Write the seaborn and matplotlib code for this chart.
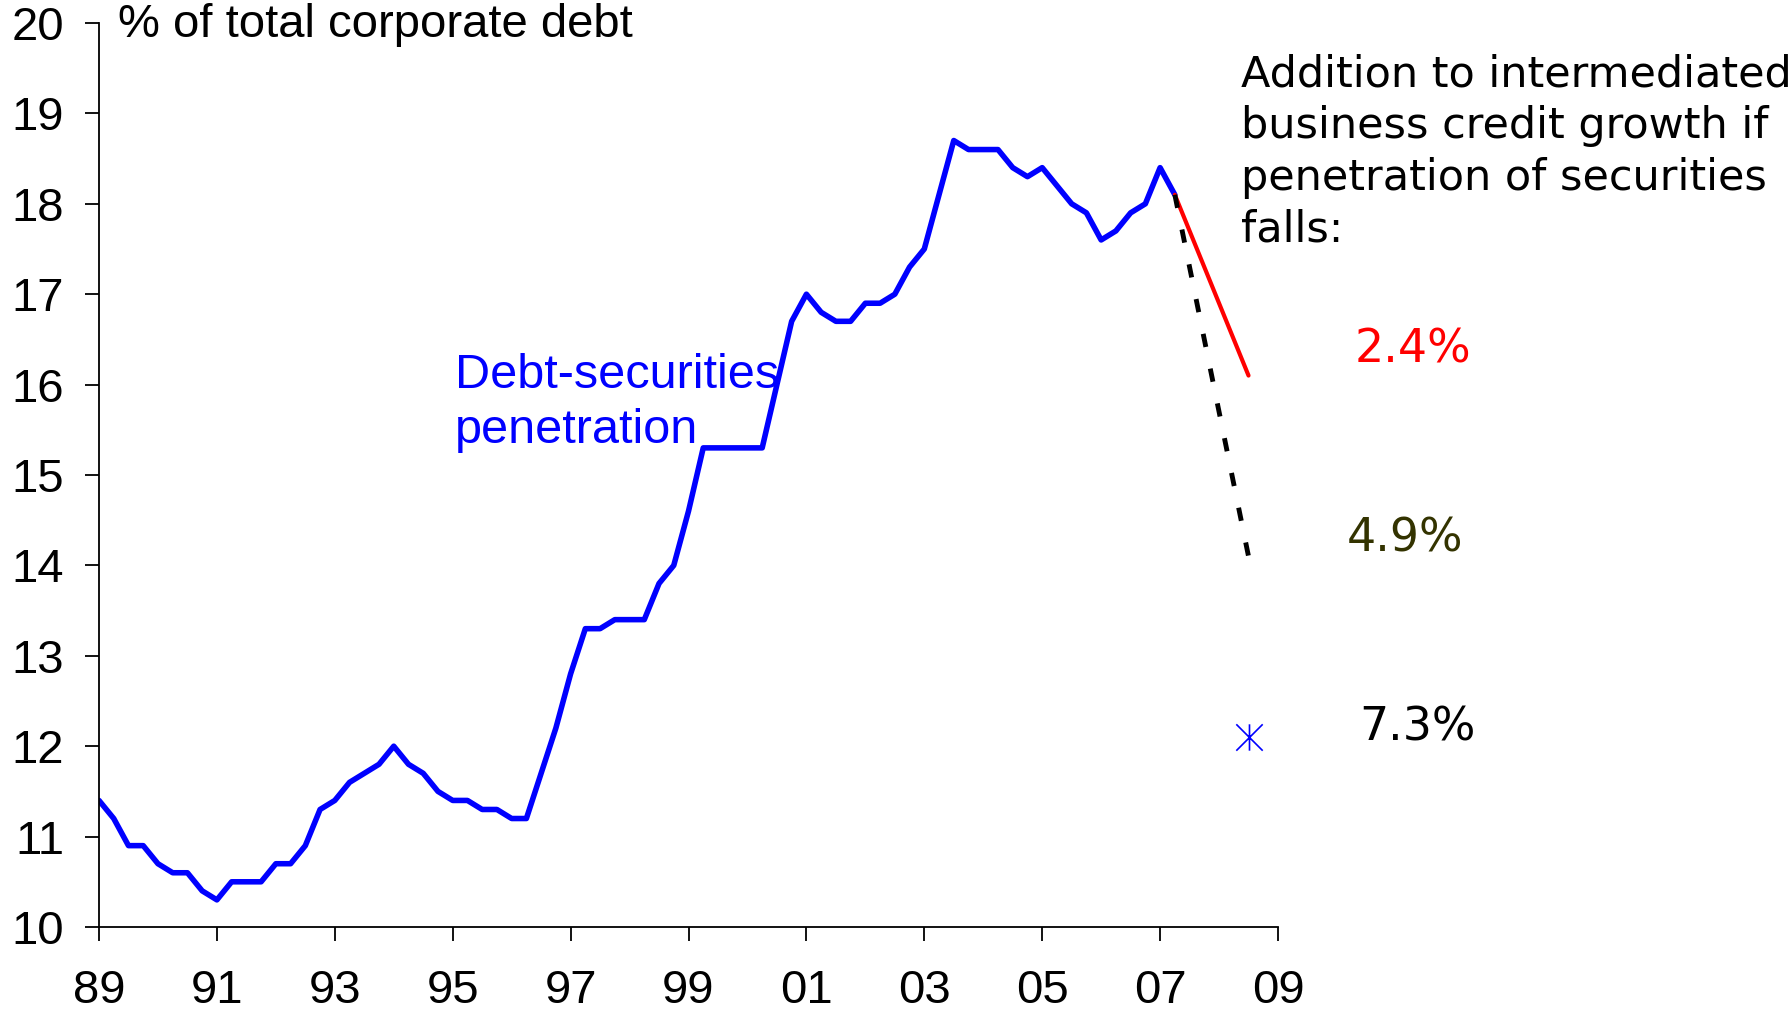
import matplotlib
matplotlib.use("Agg")
import matplotlib.pyplot as plt
from matplotlib.path import Path
import seaborn as sns
import pandas as pd

# ---- data (quarterly, % of total corporate debt) ----
quarters = [1989.00, 1989.25, 1989.50, 1989.75, 1990.00, 1990.25, 1990.50, 1990.75,
            1991.00, 1991.25, 1991.50, 1991.75, 1992.00, 1992.25, 1992.50, 1992.75,
            1993.00, 1993.25, 1993.50, 1993.75, 1994.00, 1994.25, 1994.50, 1994.75,
            1995.00, 1995.25, 1995.50, 1995.75, 1996.00, 1996.25, 1996.50, 1996.75,
            1997.00, 1997.25, 1997.50, 1997.75, 1998.00, 1998.25, 1998.50, 1998.75,
            1999.00, 1999.25, 1999.50, 1999.75, 2000.00, 2000.25, 2000.50, 2000.75,
            2001.00, 2001.25, 2001.50, 2001.75, 2002.00, 2002.25, 2002.50, 2002.75,
            2003.00, 2003.25, 2003.50, 2003.75, 2004.00, 2004.25, 2004.50, 2004.75,
            2005.00, 2005.25, 2005.50, 2005.75, 2006.00, 2006.25, 2006.50, 2006.75,
            2007.00, 2007.25]
penetration = [11.4, 11.2, 10.9, 10.9, 10.7, 10.6, 10.6, 10.4,
               10.3, 10.5, 10.5, 10.5, 10.7, 10.7, 10.9, 11.3,
               11.4, 11.6, 11.7, 11.8, 12.0, 11.8, 11.7, 11.5,
               11.4, 11.4, 11.3, 11.3, 11.2, 11.2, 11.7, 12.2,
               12.8, 13.3, 13.3, 13.4, 13.4, 13.4, 13.8, 14.0,
               14.6, 15.3, 15.3, 15.3, 15.3, 15.3, 16.0, 16.7,
               17.0, 16.8, 16.7, 16.7, 16.9, 16.9, 17.0, 17.3,
               17.5, 18.1, 18.7, 18.6, 18.6, 18.6, 18.4, 18.3,
               18.4, 18.2, 18.0, 17.9, 17.6, 17.7, 17.9, 18.0,
               18.4, 18.1]

proj_x = [2007.25, 2008.5]
proj_24 = [18.1, 16.1]   # 2.4% scenario
proj_49 = [18.1, 14.1]   # 4.9% scenario
star_x = [2008.5]
star_73 = [12.1]         # 7.3% scenario

scenario_labels = ["2.4%", "4.9%", "7.3%"]
xtick_years = [1989, 1991, 1993, 1995, 1997, 1999, 2001, 2003, 2005, 2007, 2009]
xtick_labels = ["89", "91", "93", "95", "97", "99", "01", "03", "05", "07", "09"]
yticks = [10, 11, 12, 13, 14, 15, 16, 17, 18, 19, 20]

BLUE = "#0000FF"
RED = "#FF0000"
OLIVE = "#333300"

sns.set_theme(style="ticks")
plt.rcParams['font.family'] = ['Liberation Sans', 'DejaVu Sans']

W, H = 1791, 1011
fig = plt.figure(figsize=(W / 100, H / 100), dpi=100)
ax = fig.add_axes([99 / W, 1 - 927 / H, (1278 - 99) / W, (927 - 23) / H])

# star marker: an X plus a vertical bar
star_path = Path([(0, -1), (0, 1), (-1, -1), (1, 1), (-1, 1), (1, -1)],
                 [Path.MOVETO, Path.LINETO] * 3)

df = pd.DataFrame({"year": quarters, "pen": penetration})
sns.lineplot(data=df, x="year", y="pen", ax=ax, color=BLUE, linewidth=4.0)
sns.lineplot(x=proj_x, y=proj_24, ax=ax, color=RED, linewidth=3.0)
sns.lineplot(x=proj_x, y=proj_49, ax=ax, color="black", linewidth=3.5,
             linestyle=(0, (2.75, 4.55)))
sns.scatterplot(x=star_x, y=star_73, ax=ax, color=BLUE, marker=star_path,
                s=19 ** 2, linewidth=1.2, edgecolor=BLUE, zorder=5)

ax.set_xlim(1989, 2009)
ax.set_ylim(10, 20)
ax.set_xticks(xtick_years)
ax.set_xticklabels(xtick_labels)
ax.set_yticks(yticks)
ax.set_xlabel("")
ax.set_ylabel("")
for s in ["top", "right"]:
    ax.spines[s].set_visible(False)
for s in ["left", "bottom"]:
    ax.spines[s].set_linewidth(1.3)
    ax.spines[s].set_color("black")
ax.tick_params(axis="both", direction="out", length=10, width=1.3, color="black",
               labelsize=34, labelcolor="black")
ax.tick_params(axis="x", pad=20)
ax.tick_params(axis="y", pad=15)
ax.grid(False)

# annotations
fig.text(118 / W, 1 - 25 / H, "% of total corporate debt", fontsize=34,
         ha="left", va="center", color="black")
fig.text(455 / W, 1 - 403 / H, "Debt-securities\npenetration", fontsize=35,
         ha="left", va="center", color=BLUE, linespacing=1.3)
fig.text(1241 / W, 1 - 152 / H,
         "Addition to intermediated\nbusiness credit growth if\npenetration of securities\nfalls:",
         fontsize=31, ha="left", va="center", color="black",
         family=["DejaVu Sans"], linespacing=1.3)
fig.text(1413 / W, 1 - 350 / H, scenario_labels[0], fontsize=33, ha="center",
         va="center", color=RED, family=["DejaVu Sans"])
fig.text(1405 / W, 1 - 539 / H, scenario_labels[1], fontsize=33, ha="center",
         va="center", color=OLIVE, family=["DejaVu Sans"])
fig.text(1417 / W, 1 - 728 / H, scenario_labels[2], fontsize=33, ha="center",
         va="center", color="black", family=["DejaVu Sans"])

fig.savefig("out.png", dpi=100, facecolor="white")
